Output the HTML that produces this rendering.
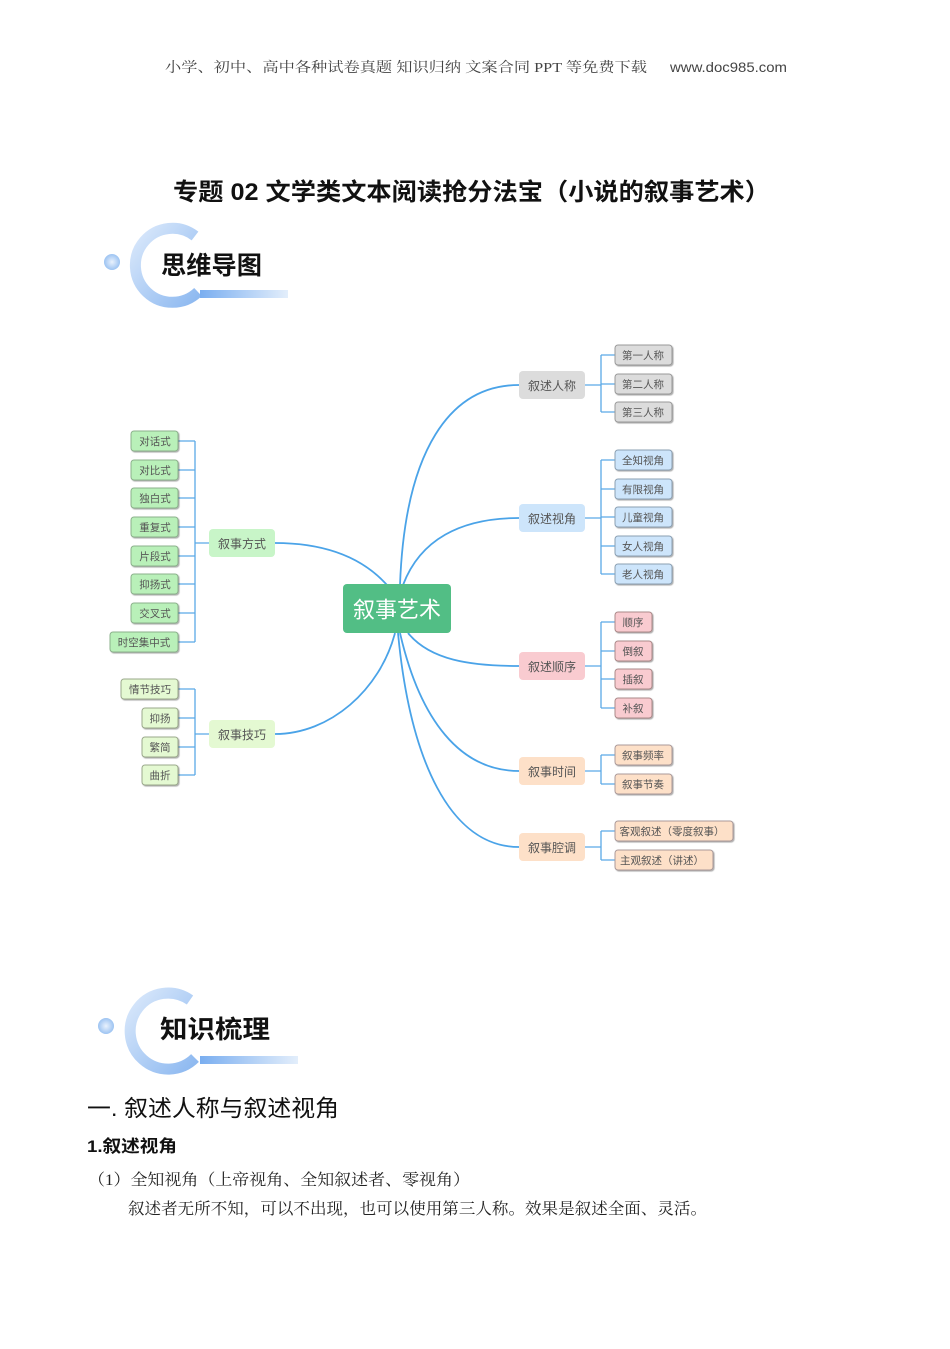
<!DOCTYPE html>
<html><head><meta charset="utf-8"><style>
body{margin:0;background:#fff}
svg text{font-family:"Liberation Sans","Noto Sans CJK SC",sans-serif}
.s{font-family:"Liberation Serif","Noto Serif CJK SC",serif !important}
.n{font-size:10.5px;fill:#555;text-anchor:middle;dominant-baseline:central}
.b{font-size:12px;fill:#555;text-anchor:middle;dominant-baseline:central}
.l{fill:none;stroke:#5aa9e6;stroke-width:1.3}
.c{fill:none;stroke:#4aa3e8;stroke-width:1.8}
</style></head><body>
<svg width="950" height="1344" viewBox="0 0 950 1344" xmlns="http://www.w3.org/2000/svg">
<defs>
<linearGradient id="g1" x1="0" y1="0" x2="1" y2="1"><stop offset="0" stop-color="#dbe9fb"/><stop offset="1" stop-color="#8cb8f0"/></linearGradient>
<linearGradient id="g2" x1="0" x2="1"><stop offset="0" stop-color="#7aaef0"/><stop offset="1" stop-color="#e3eefb"/></linearGradient>
<radialGradient id="g3"><stop offset="0" stop-color="#eaf2fd"/><stop offset="1" stop-color="#9cc3f2"/></radialGradient>
<filter id="sh"><feDropShadow dx="1" dy="1" stdDeviation="0.6" flood-opacity="0.35"/></filter>
</defs>
<text x="165" y="72" font-size="14" fill="#444" class="s" textLength="482" lengthAdjust="spacingAndGlyphs">小学、初中、高中各种试卷真题 知识归纳 文案合同 PPT 等免费下载</text>
<text x="670" y="72" font-size="14" fill="#444" textLength="117" lengthAdjust="spacingAndGlyphs">www.doc985.com</text>
<text x="173" y="200" font-size="24" font-weight="bold" fill="#111" textLength="597" lengthAdjust="spacingAndGlyphs">专题 02  文学类文本阅读抢分法宝（小说的叙事艺术）</text>

<!-- logo 1 -->
<circle cx="112" cy="262" r="8" fill="url(#g3)"/>
<path d="M195 236 A37 37 0 1 0 198 292" fill="none" stroke="url(#g1)" stroke-width="11"/>
<rect x="200" y="290" width="88" height="8" fill="url(#g2)"/>
<text x="161" y="274" font-size="25" font-weight="bold" fill="#111" textLength="101" lengthAdjust="spacingAndGlyphs">思维导图</text>
<!-- logo 2 -->
<circle cx="106" cy="1026" r="8" fill="url(#g3)"/>
<path d="M190 1000 A38 38 0 1 0 195 1058" fill="none" stroke="url(#g1)" stroke-width="11"/>
<rect x="200" y="1056" width="98" height="8" fill="url(#g2)"/>
<text x="160" y="1038" font-size="25" font-weight="bold" fill="#111" textLength="110" lengthAdjust="spacingAndGlyphs">知识梳理</text>

<!-- curves -->
<path class="c" d="M400 585 C405 450 450 385 519 385"/>
<path class="c" d="M403 585 C420 540 460 518 519 518"/>
<path class="c" d="M408 633 C430 660 470 666 519 666"/>
<path class="c" d="M400 633 C420 720 460 771 519 771"/>
<path class="c" d="M398 633 C410 760 450 847 519 847"/>
<path class="c" d="M387 585 C360 555 320 543 275 543"/>
<path class="c" d="M395 633 C380 690 330 734 275 734"/>

<!-- brackets right -->
<path class="l" d="M585 385H601 M601 355V412 M601 355H615 M601 384H615 M601 412H615"/>
<path class="l" d="M585 518H601 M601 460V574 M601 460H615 M601 489H615 M601 517H615 M601 546H615 M601 574H615"/>
<path class="l" d="M585 666H601 M601 622V708 M601 622H615 M601 651H615 M601 679H615 M601 708H615"/>
<path class="l" d="M585 771H601 M601 755V784 M601 755H615 M601 784H615"/>
<path class="l" d="M585 847H601 M601 831V860 M601 831H615 M601 860H615"/>
<!-- brackets left -->
<path class="l" d="M209 543H195 M195 441V642 M178 441H195 M178 470H195 M178 498H195 M178 527H195 M178 556H195 M178 584H195 M178 613H195 M178 642H195"/>
<path class="l" d="M209 734H195 M195 689V775 M178 689H195 M178 718H195 M178 747H195 M178 775H195"/>

<!-- center -->
<rect x="343" y="584" width="108" height="49" rx="4" fill="#52be85"/>
<text x="397" y="610" font-size="22" fill="#fff" text-anchor="middle" dominant-baseline="central">叙事艺术</text>

<!-- main branches -->
<g>
<rect x="519" y="371" width="66" height="28" rx="4" fill="#dcdcdc"/><text class="b" x="552" y="386">叙述人称</text>
<rect x="519" y="504" width="66" height="28" rx="4" fill="#cde5fb"/><text class="b" x="552" y="519">叙述视角</text>
<rect x="519" y="652" width="66" height="28" rx="4" fill="#f9cbd0"/><text class="b" x="552" y="667">叙述顺序</text>
<rect x="519" y="757" width="66" height="28" rx="4" fill="#fde0c8"/><text class="b" x="552" y="772">叙事时间</text>
<rect x="519" y="833" width="66" height="28" rx="4" fill="#fde0c8"/><text class="b" x="552" y="848">叙事腔调</text>
<rect x="209" y="529" width="66" height="28" rx="4" fill="#c8f5c8"/><text class="b" x="242" y="544">叙事方式</text>
<rect x="209" y="720" width="66" height="28" rx="4" fill="#e4f9d2"/><text class="b" x="242" y="735">叙事技巧</text>
</g>

<!-- leaves -->
<g filter="url(#sh)" stroke-width="1">
<g fill="#dcdcdc" stroke="#999">
<rect x="615" y="345" width="57" height="20" rx="3"/><rect x="615" y="374" width="57" height="20" rx="3"/><rect x="615" y="402" width="57" height="20" rx="3"/></g>
<g fill="#cde5fb" stroke="#8a9fb2">
<rect x="615" y="450" width="57" height="20" rx="3"/><rect x="615" y="479" width="57" height="20" rx="3"/><rect x="615" y="507" width="57" height="20" rx="3"/><rect x="615" y="536" width="57" height="20" rx="3"/><rect x="615" y="564" width="57" height="20" rx="3"/></g>
<g fill="#f9cbd0" stroke="#a88">
<rect x="615" y="612" width="37" height="20" rx="3"/><rect x="615" y="641" width="37" height="20" rx="3"/><rect x="615" y="669" width="37" height="20" rx="3"/><rect x="615" y="698" width="37" height="20" rx="3"/></g>
<g fill="#fde0c8" stroke="#a99">
<rect x="615" y="745" width="57" height="20" rx="3"/><rect x="615" y="774" width="57" height="20" rx="3"/><rect x="615" y="821" width="118" height="20" rx="3"/><rect x="615" y="850" width="98" height="20" rx="3"/></g>
<g fill="#b9f0b9" stroke="#8bb08b">
<rect x="131" y="431" width="47" height="20" rx="3"/><rect x="131" y="460" width="47" height="20" rx="3"/><rect x="131" y="488" width="47" height="20" rx="3"/><rect x="131" y="517" width="47" height="20" rx="3"/><rect x="131" y="546" width="47" height="20" rx="3"/><rect x="131" y="574" width="47" height="20" rx="3"/><rect x="131" y="603" width="47" height="20" rx="3"/><rect x="110" y="632" width="68" height="20" rx="3"/></g>
<g fill="#e4f9d2" stroke="#9aa88b">
<rect x="121" y="679" width="57" height="20" rx="3"/><rect x="142" y="708" width="36" height="20" rx="3"/><rect x="142" y="737" width="36" height="20" rx="3"/><rect x="142" y="765" width="36" height="20" rx="3"/></g>
</g>
<g>
<text class="n" x="643" y="356">第一人称</text><text class="n" x="643" y="385">第二人称</text><text class="n" x="643" y="413">第三人称</text>
<text class="n" x="643" y="461">全知视角</text><text class="n" x="643" y="490">有限视角</text><text class="n" x="643" y="518">儿童视角</text><text class="n" x="643" y="547">女人视角</text><text class="n" x="643" y="575">老人视角</text>
<text class="n" x="633" y="623">顺序</text><text class="n" x="633" y="652">倒叙</text><text class="n" x="633" y="680">插叙</text><text class="n" x="633" y="709">补叙</text>
<text class="n" x="643" y="756">叙事频率</text><text class="n" x="643" y="785">叙事节奏</text>
<text class="n" x="672" y="832">客观叙述（零度叙事）</text><text class="n" x="662" y="861">主观叙述（讲述）</text>
<text class="n" x="155" y="442">对话式</text><text class="n" x="155" y="471">对比式</text><text class="n" x="155" y="499">独白式</text><text class="n" x="155" y="528">重复式</text><text class="n" x="155" y="557">片段式</text><text class="n" x="155" y="585">抑扬式</text><text class="n" x="155" y="614">交叉式</text><text class="n" x="144" y="643">时空集中式</text>
<text class="n" x="150" y="690">情节技巧</text><text class="n" x="160" y="719">抑扬</text><text class="n" x="160" y="748">繁简</text><text class="n" x="160" y="776">曲折</text>
</g>

<text x="87" y="1116" font-size="23" fill="#111" textLength="252" lengthAdjust="spacingAndGlyphs">一. 叙述人称与叙述视角</text>
<text x="87" y="1152" font-size="17" font-weight="bold" fill="#111" textLength="90" lengthAdjust="spacingAndGlyphs">1.叙述视角</text>
<text x="88" y="1185" font-size="16" fill="#222" class="s" textLength="382" lengthAdjust="spacingAndGlyphs">（1）全知视角（上帝视角、全知叙述者、零视角）</text>
<text x="128" y="1214" font-size="16" fill="#222" class="s" textLength="579" lengthAdjust="spacingAndGlyphs">叙述者无所不知，可以不出现，也可以使用第三人称。效果是叙述全面、灵活。</text>
</svg>
</body></html>
